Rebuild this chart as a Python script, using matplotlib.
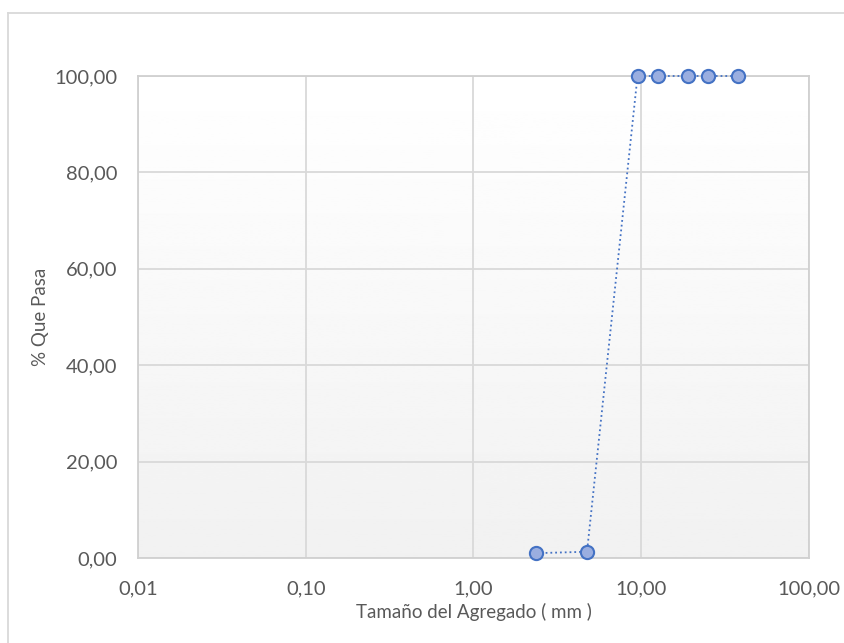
import numpy as np
import matplotlib
matplotlib.use('Agg')
from matplotlib import pyplot as plt
from matplotlib.lines import Line2D

# datos de la curva granulométrica
tamano = [2.36, 4.75, 9.5, 12.5, 19.0, 25.0, 37.5]
pasa = [1.0, 1.3, 100.0, 100.0, 100.0, 100.0, 100.0]
x_ticks = [0.01, 0.1, 1, 10, 100]
x_labels = ['0,01', '0,10', '1,00', '10,00', '100,00']
y_ticks = [0, 20, 40, 60, 80, 100]
y_labels = ['0,00', '20,00', '40,00', '60,00', '80,00', '100,00']

plt.rcParams['font.family'] = ['Lato', 'DejaVu Sans']
gris = '#595959'

fig = plt.figure(figsize=(8.45, 6.43), dpi=100)
ax = fig.add_axes([138 / 845, 1 - 558 / 643, 671 / 845, 482 / 643])

# fondo degradado del área de trazado
grad = np.linspace(1.0, 0.945, 256).reshape(-1, 1)
ax.imshow(grad, cmap='gray', vmin=0, vmax=1, aspect='auto',
          extent=[0, 1, 0, 1], transform=ax.transAxes, zorder=0)

ax.set_xscale('log')
ax.set_xlim(0.01, 100)
ax.set_ylim(0, 100)
ax.set_xticks(x_ticks)
ax.set_xticklabels(x_labels)
ax.set_yticks(y_ticks)
ax.set_yticklabels(y_labels)
ax.minorticks_off()
ax.tick_params(length=0, labelsize=14.5, colors=gris)
ax.tick_params(axis='y', pad=15)
ax.tick_params(axis='x', pad=16)
ax.grid(True, color='#d9d9d9', linewidth=1.3, zorder=1)
for s in ax.spines.values():
    s.set_color('#d0d0d0')
    s.set_linewidth(1.3)

ax.plot(tamano, pasa, ':', color='#4472c4', linewidth=1.3,
        marker='o', markersize=9.5, markerfacecolor='#9aaee0',
        markeredgecolor='#4472c4', markeredgewidth=1.5, zorder=3, clip_on=False)

ax.set_xlabel('Tamaño del Agregado ( mm )', fontsize=13.5, color=gris)
ax.set_ylabel('% Que Pasa', fontsize=13.5, color=gris)
ax.xaxis.set_label_coords(0.5, (558 - 612) / 482)
ax.xaxis.label.set_va('center')
ax.yaxis.set_label_coords((40 - 138) / 671, 0.5)
ax.yaxis.label.set_va('center')

# borde exterior del gráfico
fig.add_artist(Line2D([8 / 845, 1.0], [1 - 13 / 643, 1 - 13 / 643], color='#d9d9d9', linewidth=1.3))
fig.add_artist(Line2D([8 / 845, 8 / 845], [0, 1 - 13 / 643], color='#d9d9d9', linewidth=1.3))

fig.savefig('out.png', dpi=100)
